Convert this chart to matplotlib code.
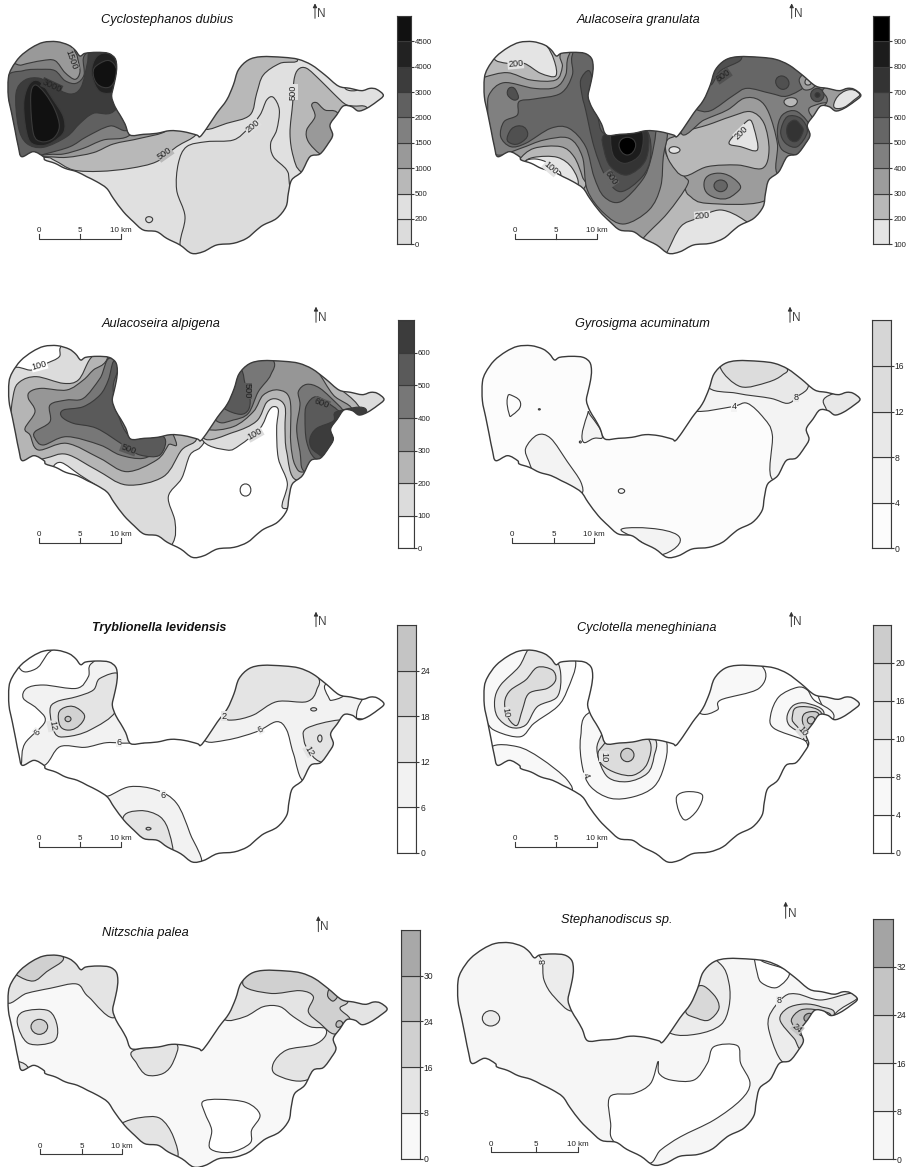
import matplotlib
matplotlib.use('Agg')
import numpy as np
import matplotlib.pyplot as plt
from matplotlib.path import Path
from matplotlib.patches import PathPatch

plt.rcParams['font.family'] = ['Liberation Sans', 'DejaVu Sans']

LINE = '#3a3a3a'
TEXT = '#222222'

# lake shoreline
shore = [(25,235),(35,205),(60,170),(95,143),(130,127),(170,125),(205,135),(225,150),(240,168),(255,160),(290,157),
         (325,160),(345,175),(350,200),(347,230),(340,262),(335,290),(345,320),(360,345),(375,372),(390,405),(430,403),
         (470,400),(510,392),(550,395),(590,405),(600,410),(620,385),(650,340),(680,300),(700,255),(715,210),(745,180),
         (785,170),(850,172),(895,178),(935,195),(975,225),(1015,258),(1050,265),(1085,272),(1110,265),(1130,268),
         (1150,286),(1130,305),(1100,325),(1075,333),(1055,320),(1030,318),(1010,345),(990,375),(998,405),(985,430),
         (960,462),(930,470),(905,515),(875,540),(865,580),(858,620),(830,655),(790,675),(770,690),(740,715),(700,730),
         (650,735),(610,755),(575,760),(540,735),(500,715),(470,695),(430,690),(400,665),(370,635),(340,595),(320,565),
         (290,545),(260,530),(230,515),(195,505),(165,490),(135,480),(130,470),(100,455),(65,470),(55,440),(45,390),
         (35,340),(25,290)]

names = ['Cyclostephanos dubius', 'Aulacoseira granulata', 'Aulacoseira alpigena', 'Gyrosigma acuminatum',
         'Tryblionella levidensis', 'Cyclotella meneghiniana', 'Nitzschia palea', 'Stephanodiscus sp.']

ticks_1 = ['0', '200', '500', '1000', '1500', '2000', '3000', '4000', '4500']
ticks_2 = ['100', '200', '300', '400', '500', '600', '700', '800', '900']
ticks_3 = ['0', '100', '200', '300', '400', '500', '600']
ticks_4 = ['0', '4', '8', '12', '16']
ticks_5 = ['0', '6', '12', '18', '24']
ticks_6 = ['0', '4', '8', '10', '16', '20']
ticks_7 = ['0', '8', '16', '24', '30']
ticks_8 = ['0', '8', '16', '24', '32']

greys_1 = ['#dcdcdc', '#e0e0e0', '#b8b8b8', '#999999', '#808080', '#606060', '#3c3c3c', '#222222', '#111111']
greys_2 = ['#e4e4e4', '#b8b8b8', '#9c9c9c', '#808080', '#666666', '#505050', '#333333', '#1c1c1c', '#000000']
greys_3 = ['#ffffff', '#dcdcdc', '#b5b5b5', '#969696', '#777777', '#5a5a5a', '#3c3c3c']
greys_4 = ['#fcfcfc', '#f3f3f3', '#e8e8e8', '#dcdcdc', '#d6d6d6']
greys_5 = ['#ffffff', '#f2f2f2', '#e4e4e4', '#d2d2d2', '#c4c4c4']
greys_6 = ['#ffffff', '#f8f8f8', '#f0f0f0', '#e6e6e6', '#dcdcdc', '#cccccc']
greys_7 = ['#f8f8f8', '#e4e4e4', '#d0d0d0', '#bcbcbc', '#a8a8a8']
greys_8 = ['#f6f6f6', '#ececec', '#d8d8d8', '#c4c4c4', '#a4a4a4']

# isolines: (class index, closed line), lower classes first. -1 is blank white
iso_1 = [
    (0, [(540,735),(555,650),(530,570),(535,490),(560,440),(620,425),(700,420),(745,385),(780,345),(800,300),(820,292),(838,330),(830,390),(812,430),(820,470),(860,510),(868,550),(880,700),(800,820),(560,820)]),
    (0, [(437,658),(447,650),(458,658),(447,668)]),
    (2, [(130,472),(165,482),(220,510),(300,514),(390,505),(470,485),(530,440),(590,402),(610,340),(400,100),(0,50),(-20,480)]),
    (2, [(612,388),(680,370),(750,345),(770,280),(790,225),(840,190),(892,178),(800,100),(600,200),(560,350)]),
    (2, [(905,517),(880,470),(870,400),(878,310),(882,240),(895,208),(920,205),(960,240),(1000,280),(1035,312),(1060,318),(1100,322),(1110,370),(1000,560)]),
    (3, [(960,462),(925,425),(920,390),(945,350),(935,315),(950,308),(975,330),(1012,338),(1040,400),(1000,480)]),
    (1, [(1035,262),(1055,258),(1075,268),(1050,272)]),
    (3, [(132,470),(200,472),(280,458),(340,432),(420,415),(500,392),(530,340),(300,100),(0,50),(-20,470)]),
    (4, [(15,214),(65,195),(125,182),(165,182),(195,218),(225,238),(240,215),(232,170),(228,140),(300,90),(430,300),(392,403),(310,420),(250,445),(190,462),(132,465),(0,490)]),
    (5, [(15,240),(70,212),(125,208),(165,212),(195,242),(228,250),(252,225),(250,175),(268,150),(320,90),(440,250),(390,385),(330,378),(260,410),(210,440),(135,462),(60,480),(0,400)]),
    (6, [(48,280),(75,240),(120,235),(155,258),(210,282),(243,262),(262,190),(270,150),(320,90),(420,150),(350,325),(280,340),(240,370),(200,410),(130,442),(80,430),(55,380)]),
    (7, [(72,300),(90,250),(120,245),(160,300),(190,350),(192,395),(160,425),(125,437),(90,425),(75,370)]),
    (8, [(92,290),(105,255),(135,280),(165,330),(178,380),(160,415),(125,425),(100,400)]),
    (7, [(275,220),(290,170),(330,160),(365,200),(350,270),(300,275)]),
    (8, [(280,225),(300,190),(340,190),(345,240),(310,262)]),
]
iso_2 = [
    (0, [(640,755),(680,680),(730,655),(800,630),(870,660),(900,700),(800,800),(620,790)]),
    (0, [(120,175),(160,190),(210,190),(260,220),(305,228),(300,180),(270,130),(200,100),(130,120)]),
    (2, [(665,405),(700,300),(760,130),(1000,130),(1250,260),(1100,400),(1000,530),(925,605),(760,610),(710,590),(690,553)]),
    (2, [(90,232),(160,218),(230,240),(305,240),(325,200),(322,158),(400,110),(560,350),(665,405),(635,425),(640,470),(690,528),(700,555),(640,640),(570,712),(500,800),(300,700),(200,600),(130,490),(50,400),(50,250)]),
    (1, [(195,480),(240,445),(320,440),(360,470),(385,530),(390,565),(300,640),(180,520)]),
    (0, [(210,490),(240,472),(310,472),(355,505),(370,560),(300,590),(220,530)]),
    (-1, [(215,485),(245,477),(285,490),(320,520),(300,550),(240,520)]),
    (1, [(665,408),(640,420),(635,450),(650,490),(690,528),(760,500),(850,495),(925,505),(945,450),(930,370),(890,335),(830,350),(760,375),(700,392)]),
    (0, [(645,450),(660,440),(678,450),(660,460)]),
    (0, [(825,430),(850,395),(885,360),(900,385),(910,450),(860,440)]),
    (3, [(680,395),(750,360),(820,330),(870,295),(915,300),(945,340),(970,430),(975,525),(1100,500),(1200,300),(1000,120),(700,160)]),
    (4, [(725,328),(770,332),(840,285),(880,265),(950,280),(1000,288),(1060,250),(1050,190),(900,120),(700,180),(680,300)]),
    (5, [(770,255),(800,212),(860,180),(850,150),(780,150),(745,220)]),
    (5, [(965,245),(985,228),(1005,250),(985,268)]),
    (1, [(990,305),(1012,293),(1030,305),(1010,320)]),
    (2, [(1040,230),(1065,225),(1085,250),(1060,270),(1040,255)]),
    (1, [(1053,245),(1063,235),(1072,248),(1060,255)]),
    (2, [(1065,335),(1085,315),(1125,315),(1100,360)]),
    (5, [(1070,285),(1090,265),(1110,285),(1090,305)]),
    (6, [(1083,285),(1090,278),(1098,285),(1090,292)]),
    (2, [(1130,255),(1120,300),(1130,335),(1300,350),(1300,230)]),
    (0, [(1140,310),(1175,272),(1215,280),(1200,300),(1160,325)]),
    (4, [(970,395),(985,345),(1030,335),(1075,395),(1040,460),(985,450)]),
    (5, [(980,395),(1000,350),(1040,355),(1060,395),(1030,440),(995,430)]),
    (6, [(998,395),(1015,362),(1040,375),(1045,400),(1020,425)]),
    (3, [(750,557),(785,520),(850,545),(845,580),(790,595)]),
    (4, [(780,557),(800,540),(820,557),(800,575)]),
    (3, [(100,345),(105,285),(150,248),(240,265),(305,262),(335,225),(345,165),(400,100),(620,350),(640,400),(628,470),(620,560),(585,630),(510,672),(450,640),(400,570),(385,470),(345,415),(270,420),(200,445),(130,465),(80,420)]),
    (4, [(140,410),(150,365),(190,345),(195,305),(240,297),(320,280),(355,225),(355,165),(400,100),(600,350),(605,400),(590,480),(565,540),(500,605),(450,590),(420,530),(395,440),(345,385),(290,385),(215,430),(170,440)]),
    (5, [(380,240),(405,212),(420,260),(430,340),(450,400),(520,380),(580,395),(590,470),(565,530),(500,575),(455,530),(420,440),(395,330),(385,290)]),
    (5, [(162,405),(190,378),(220,395),(205,425),(170,430)]),
    (5, [(160,275),(175,262),(190,280),(190,298),(170,295)]),
    (6, [(450,405),(520,385),(580,395),(575,480),(520,525),(470,500),(450,450)]),
    (7, [(470,420),(480,385),(560,385),(560,460),(515,490),(480,470)]),
    (8, [(495,435),(520,412),(545,435),(520,465)]),
]
iso_3 = [
    (1, [(30,232),(95,225),(140,205),(178,185),(190,148),(300,100),(560,360),(610,430),(600,458),(570,480),(545,550),(505,605),(525,680),(518,745),(450,820),(200,620),(100,520),(0,420)]),
    (0, [(160,515),(185,503),(240,540),(300,580),(260,570),(170,535)]),
    (1, [(605,430),(680,465),(720,450),(780,400),(805,350),(820,335),(835,345),(830,400),(835,490),(862,565),(850,640),(950,600),(1050,500),(1200,315),(1000,200),(800,140),(620,300)]),
    (2, [(40,300),(60,260),(110,245),(190,265),(235,255),(265,200),(280,180),(340,100),(560,350),(590,430),(545,465),(490,545),(380,570),(290,525),(200,478),(135,490),(60,505),(30,420)]),
    (2, [(610,428),(700,412),(770,378),(800,322),(830,312),(855,335),(855,400),(860,470),(890,555),(1000,500),(1085,358),(990,255),(950,190),(800,100),(620,300)]),
    (3, [(620,402),(700,395),(760,350),(790,300),(835,285),(870,315),(872,440),(885,510),(915,530),(1000,480),(1060,355),(1000,300),(950,225),(880,140),(700,150),(590,350)]),
    (4, [(815,190),(812,240),(775,290),(745,355),(700,375),(650,378),(600,300),(700,120)]),
    (5, [(725,225),(735,265),(750,310),(745,345),(720,358),(672,340),(640,300),(690,180)]),
    (4, [(895,290),(920,268),(960,280),(1015,330),(1035,350),(1100,400),(1000,510),(915,530),(900,470),(890,400),(900,330)]),
    (5, [(920,330),(950,305),(1000,335),(1020,350),(1100,400),(1000,500),(945,490),(920,440),(915,370)]),
    (6, [(930,430),(950,400),(1000,378),(1010,350),(1100,350),(1000,520),(965,485),(935,460)]),
    (3, [(85,310),(90,290),(125,280),(200,285),(250,255),(280,225),(320,195),(350,100),(520,420),(505,450),(470,495),(380,530),(300,490),(200,445),(115,465),(90,420),(75,400),(105,350)]),
    (4, [(105,410),(150,380),(150,330),(200,315),(250,310),(300,250),(335,190),(420,300),(490,425),(480,460),(430,490),(360,480),(300,450),(200,425),(130,450),(105,430)]),
    (5, [(190,345),(250,335),(300,300),(325,255),(340,200),(355,220),(340,290),(385,420),(490,425),(480,480),(420,480),(370,450),(290,400),(220,385),(185,365)]),
    (0, [(725,572),(748,572),(748,598),(725,598)]),
]
iso_4 = [
    (1, [(215,460),(250,420),(290,430),(340,500),(380,560),(382,595),(330,575),(250,545),(225,500)]),
    (1, [(385,435),(400,360),(410,362),(445,420),(420,430)]),
    (1, [(510,700),(670,720),(620,780),(560,740)]),
    (1, [(722,348),(835,335),(880,325),(930,370),(955,420),(958,555),(1100,500),(1140,300),(1060,180),(800,130),(680,300)]),
    (0, [(160,310),(175,302),(200,328),(175,360),(165,355)]),
    (0, [(493,588),(502,581),(512,588),(502,595)]),
    (0, [(253,343),(256,341),(259,343),(256,345)]),
    (0, [(376,441),(379,438),(382,441),(379,444)]),
    (2, [(760,270),(850,295),(950,310),(1000,325),(1030,305),(1063,262),(1000,140),(800,140)]),
    (3, [(800,220),(860,275),(940,262),(985,240),(995,215),(900,140),(820,170)]),
    (2, [(1118,345),(1140,295),(1300,280),(1300,350),(1170,375)]),
]
iso_5 = [
    (1, [(65,515),(75,460),(135,395),(110,355),(70,325),(80,295),(130,285),(230,295),(265,260),(275,220),(360,190),(440,430),(395,458),(320,458),(255,472),(180,470),(135,525),(70,535)]),
    (1, [(610,448),(680,450),(770,425),(830,395),(860,420),(880,490),(915,575),(1000,500),(1090,325),(1000,190),(700,150),(600,350)]),
    (0, [(1070,385),(1090,325),(1130,310),(1175,340),(1100,395)]),
    (0, [(975,285),(1005,290),(1035,310),(1000,330),(985,320)]),
    (0, [(55,228),(100,240),(140,195),(150,170),(60,160)]),
    (2, [(670,380),(700,390),(760,375),(830,335),(920,335),(950,300),(945,250),(800,140),(680,200),(640,320)]),
    (2, [(912,450),(920,415),(1017,390),(1100,400),(1050,530),(960,515),(925,480)]),
    (2, [(165,430),(150,360),(170,335),(230,320),(280,300),(300,265),(360,255),(350,360),(270,420),(200,440)]),
    (3, [(175,385),(195,352),(240,360),(248,395),(200,420)]),
    (4, [(195,387),(204,379),(213,387),(204,395)]),
    (1, [(325,618),(390,590),(470,600),(530,640),(570,730),(600,830),(450,830),(290,620)]),
    (2, [(368,688),(420,662),(480,680),(508,730),(510,800),(400,810)]),
    (3, [(438,716),(445,712),(453,716),(445,720)]),
    (2, [(953,445),(960,435),(966,445),(960,456)]),
    (2, [(932,358),(941,353),(950,358),(941,363)]),
]
iso_6 = [
    (1, [(98,395),(130,425),(200,440),(240,400),(310,350),(340,300),(365,215),(320,160),(100,140),(60,300)]),
    (3, [(222,180),(195,230),(140,285),(122,330),(130,380),(170,412),(215,405),(250,350),(310,320),(320,250),(300,200),(250,170)]),
    (4, [(153,330),(170,300),(215,270),(250,232),(295,240),(305,270),(280,295),(225,310),(205,360),(190,405),(170,395),(155,365)]),
    (1, [(412,365),(380,440),(385,530),(410,590),(470,625),(540,620),(600,590),(630,530),(638,455),(600,350)]),
    (3, [(440,440),(430,490),(460,560),(520,575),(580,550),(600,500),(600,440),(500,350)]),
    (4, [(452,460),(432,490),(445,525),(490,550),(540,555),(580,520),(585,450),(500,400)]),
    (5, [(500,495),(520,475),(540,495),(520,515)]),
    (0, [(668,620),(700,605),(745,615),(730,660),(695,690),(675,665)]),
    (1, [(735,368),(790,360),(800,330),(915,295),(925,230),(800,170),(690,280)]),
    (1, [(1090,305),(1140,320),(1175,310),(1240,340),(1165,385),(1125,380)]),
    (1, [(950,375),(975,320),(1030,292),(1060,300),(1080,330),(1140,380),(1070,470),(1050,450),(960,415)]),
    (3, [(1000,375),(1020,345),(1060,340),(1110,370),(1060,450),(1040,430),(1005,405)]),
    (4, [(1015,380),(1040,350),(1105,375),(1060,430),(1030,410)]),
    (5, [(1045,385),(1070,365),(1095,380),(1065,420)]),
    (5, [(1060,390),(1072,380),(1082,390),(1070,402)]),
    (1, [(110,472),(190,470),(260,505),(340,570),(342,610),(200,610),(90,550)]),
]
iso_7 = [
    (1, [(15,362),(80,340),(150,325),(230,312),(265,350),(350,408),(390,200),(0,190)]),
    (2, [(50,285),(100,303),(140,275),(190,232),(100,190),(15,250)]),
    (1, [(52,430),(70,395),(145,392),(172,440),(160,485),(85,490)]),
    (2, [(93,440),(118,418),(143,440),(118,463)]),
    (1, [(55,545),(85,565),(65,585),(40,560)]),
    (1, [(400,512),(525,490),(520,545),(490,580),(440,585),(410,550)]),
    (1, [(365,730),(420,713),(480,715),(520,770),(528,840),(430,840),(340,760)]),
    (-1, [(608,665),(660,658),(740,668),(780,705),(755,750),(750,790),(690,817),(630,805),(635,750),(615,700)]),
    (1, [(672,418),(735,410),(790,380),(840,380),(880,410),(930,440),(975,445),(975,470),(940,495),(860,510),(820,550),(830,585),(920,600),(1020,520),(1005,465),(1100,450),(1200,380),(1000,240),(750,240),(640,350)]),
    (2, [(728,310),(810,340),(900,332),(940,350),(925,395),(960,430),(1005,462),(1050,420),(1020,385),(1045,355),(1000,240),(800,220)]),
    (3, [(983,340),(995,325),(1015,335),(1005,360),(990,358)]),
    (3, [(1008,432),(1018,422),(1028,432),(1015,442)]),
]
iso_8 = [
    (-1, [(468,650),(540,640),(590,610),(612,545),(615,580),(650,600),(720,600),(760,550),(780,500),(850,497),(860,550),(888,610),(860,660),(780,720),(680,770),(620,810),(580,850),(480,785),(470,730)]),
    (1, [(265,245),(270,300),(300,350),(360,392),(420,300),(350,180),(250,200)]),
    (1, [(85,415),(110,392),(137,415),(110,438)]),
    (1, [(650,460),(730,462),(800,435),(825,380),(825,310),(797,250),(700,200),(590,400)]),
    (2, [(695,392),(735,318),(780,345),(795,385),(765,420),(730,415)]),
    (-1, [(920,240),(1005,275),(970,322),(925,310),(910,280),(900,200),(950,200)]),
    (1, [(985,545),(1030,530),(1100,500),(1140,405),(1210,355),(1190,340),(1100,360),(1030,342),(990,350),(945,410),(950,470)]),
    (2, [(978,420),(1000,385),(1050,372),(1100,380),(1140,405),(1050,505),(1020,475)]),
    (3, [(1012,420),(1040,390),(1090,390),(1130,410),(1050,465),(1030,450)]),
    (4, [(1050,412),(1065,400),(1075,410),(1060,425)]),
]

# isoline labels: text, x, y, rotation, class behind it
labels_1 = [('1500',215,180,-70,3),('3000',155,258,-25,6),('500',878,276,90,1),('200',757,378,40,1),('500',495,462,35,2)]
labels_2 = [('200',185,192,5,0),('100',290,505,-40,0),('600',470,535,-55,4),('800',808,228,35,5),('200',862,398,45,0),('200',745,648,5,0)]
labels_3 = [('100',118,212,15,0),('500',385,462,-20,5),('500',740,288,-90,5),('600',965,325,-20,5),('100',765,418,30,1)]
labels_4 = [('4',840,335,0,1),('8',1027,307,0,2)]
labels_5 = [('6',112,427,50,1),('12',157,408,-80,2),('6',357,457,0,1),('2',672,378,0,2),('6',780,418,30,1),('12',928,483,-60,2),('6',490,615,0,1)]
labels_6 = [('10',155,368,-80,3),('10',450,500,-90,3),('4',395,555,-70,1),('10',1045,425,-50,4)]
labels_7 = []
labels_8 = [('8',267,245,90,1),('8',975,362,0,1),('24',1030,445,-40,3)]

# layout of the eight crops, values in crop units (3 per image pixel)
crop_left = [0, 454, 0, 454, 0, 454, 0, 454]
crop_top = [0, 0, 295, 295, 590, 590, 880, 880]
crop_high = [290, 290, 290, 290, 290, 290, 287, 287]
base_class = [1, 1, 0, 0, 0, 0, 0, 0]
shore_fit = [(1,0,1,0),(1.004,66,1,0),(1,2,1,27),(1.007,60,1,27),
             (1,2,1,56),(1,66,1,56),(1.01,0,1,101),(1.065,-14.6,1.05,57)]
title_xy = [(502,60),(555,60),(482,88),(565,88),(478,113),(578,115),(437,160),(487,120)]
arrow_xy = [(945,55,10),(1013,55,10),(948,82,35),(1008,82,35),(948,110,65),(1012,110,65),(955,155,108),(995,115,65)]
scale_xy = [(118,241,362,718),(183,307,428,718),(118,241,362,745),(175,299,420,745),
            (118,241,362,772),(183,307,428,772),(119,245,365,823),(112,245,372,817)]
bar_box = [(1190,1232,48,733),(1258,1306,48,733),(1193,1241,76,760),(1254,1310,76,760),
           (1192,1249,105,788),(1256,1312,105,788),(1202,1259,150,836),(1258,1316,116,838)]
bar_font = [5.6, 5.6, 5.6, 6.2, 6.2, 6.2, 6.2, 6.2]

all_iso = [iso_1, iso_2, iso_3, iso_4, iso_5, iso_6, iso_7, iso_8]
all_labels = [labels_1, labels_2, labels_3, labels_4, labels_5, labels_6, labels_7, labels_8]
all_ticks = [ticks_1, ticks_2, ticks_3, ticks_4, ticks_5, ticks_6, ticks_7, ticks_8]
all_greys = [greys_1, greys_2, greys_3, greys_4, greys_5, greys_6, greys_7, greys_8]


def smooth_path(pts):
    # closed Catmull-Rom line written as bezier segments, tighter lines get rounder handles
    p = np.array(pts, dtype=float)
    n = len(p)
    k = 0.27 if n <= 5 else 1 / 6
    verts = [p[0]]
    codes = [Path.MOVETO]
    for i in range(n):
        p0, p1, p2, p3 = p[i - 1], p[i], p[(i + 1) % n], p[(i + 2) % n]
        verts += [p1 + (p2 - p0) * k, p2 - (p3 - p1) * k, p2]
        codes += [Path.CURVE4, Path.CURVE4, Path.CURVE4]
    return Path(np.array(verts), codes)


W, H = 908, 1167
fig = plt.figure(figsize=(W / 100, H / 100), dpi=100)

for i in range(8):
    left, top, high = crop_left[i], crop_top[i], crop_high[i]
    ax = fig.add_axes([left / W, 1 - (top + high) / H, 454 / W, high / H])
    ax.set_xlim(0, 1362)
    ax.set_ylim(high * 3, 0)
    ax.axis('off')
    greys = all_greys[i]

    sx, dx, sy, dy = shore_fit[i]
    lake = [(x * sx + dx, y * sy + dy) for x, y in shore]
    lake_path = smooth_path(lake)
    base = PathPatch(lake_path, fc=greys[base_class[i]], ec='none', zorder=1)
    ax.add_patch(base)

    for k, (band, line) in enumerate(all_iso[i]):
        col = 'white' if band < 0 else greys[band]
        patch = PathPatch(smooth_path(line), fc=col, ec=LINE, lw=0.8, zorder=2 + k * 0.01)
        ax.add_patch(patch)
        patch.set_clip_path(base)

    ax.add_patch(PathPatch(lake_path, fc='none', ec=LINE, lw=1.0, zorder=4))

    for txt, x, y, rot, band in all_labels[i]:
        ax.text(x, y, txt, rotation=rot, ha='center', va='center', fontsize=6.6, color=TEXT, zorder=5,
                bbox=dict(fc=greys[band], ec='none', pad=0.3))

    if i == 4:
        ax.text(title_xy[i][0], title_xy[i][1], names[i], style='italic', weight='bold', fontsize=9,
                ha='center', va='center', color='#111111')
    else:
        ax.text(title_xy[i][0], title_xy[i][1], names[i], style='italic', fontsize=9.2,
                ha='center', va='center', color='#111111')

    ax_x, y0, y1 = arrow_xy[i]
    ax.annotate('', xy=(ax_x, y1), xytext=(ax_x, y0),
                arrowprops=dict(arrowstyle='-|>', color='#333333', lw=0.7, mutation_scale=6, shrinkA=0, shrinkB=0))
    ax.text(ax_x + 19, y0 - 13, 'N', fontsize=8.5, ha='center', va='center', color='#444444')

    a, b, c, y = scale_xy[i]
    ax.plot([a, a, c, c], [y - 15, y, y, y - 15], color=LINE, lw=0.8)
    ax.plot([b, b], [y, y - 15], color=LINE, lw=0.8)
    ax.text(a, y - 25, '0', fontsize=5.8, ha='center', va='center', color=TEXT)
    ax.text(b, y - 25, '5', fontsize=5.8, ha='center', va='center', color=TEXT)
    ax.text(c - 32, y - 25, '10 km', fontsize=5.8, ha='left', va='center', color=TEXT)

    # legend bar
    x0, x1, y_top, y_bot = bar_box[i]
    bar = fig.add_axes([(left + x0 / 3) / W, 1 - (top + y_bot / 3) / H, (x1 - x0) / 3 / W, (y_bot - y_top) / 3 / H])
    ticks = all_ticks[i]
    bar.bar(np.zeros(len(ticks)), np.ones(len(ticks)), bottom=np.arange(len(ticks)), width=1, color=greys,
            edgecolor=LINE, linewidth=0.8)
    bar.set_xlim(-0.5, 0.5)
    bar.set_ylim(0, len(ticks))
    bar.set_xticks([])
    bar.set_yticks(np.arange(len(ticks)))
    bar.set_yticklabels(ticks, fontsize=bar_font[i], color=TEXT)
    bar.yaxis.tick_right()
    bar.tick_params(axis='y', length=2, width=0.8, color=LINE, pad=1)
    for s in bar.spines.values():
        s.set_color(LINE)
        s.set_linewidth(0.8)

fig.savefig('out.png', dpi=100)
